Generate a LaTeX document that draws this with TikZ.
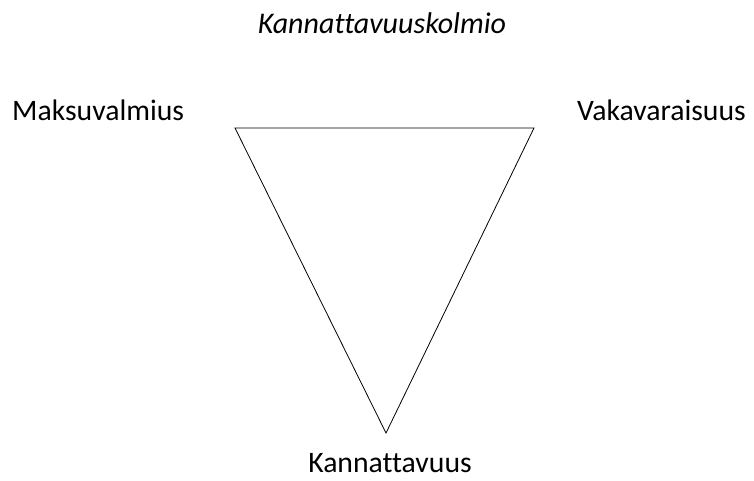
\documentclass[tikz,border=0pt]{standalone}
\usepackage{fontspec}
\setmainfont{Carlito}[Ligatures=NoCommon]
\usetikzlibrary{positioning}

\begin{document}
\begin{tikzpicture}[
    x=1pt, y=-1pt,
    corner/.style={font=\fontsize{29.7}{34}\selectfont, inner sep=0pt, anchor=base west},
    title/.style={font=\fontsize{30}{34}\selectfont\itshape, inner sep=0pt, anchor=base},
    edge/.style={draw, line width=0.8pt}
  ]
  \useasboundingbox (0,0) rectangle (754,480);

  % Title
  \node[title] (title) at (382,33) {Kannattavuuskolmio};

  % Corners of the triangle
  \coordinate (tl) at (235,128);
  \coordinate (tr) at (534,128);
  \coordinate (bt) at (386,433);

  % Labels
  \node[corner] (maksu) at (12,120) {Maksuvalmius};
  \node[corner] (vaka) at (577,120) {Vakavaraisuus};
  \node[corner, anchor=base] (kanna) at (390,472) {Kannattavuus};

  % Triangle
  \draw[edge] (tl) -- (tr) -- (bt) -- cycle;

\end{tikzpicture}
\end{document}
